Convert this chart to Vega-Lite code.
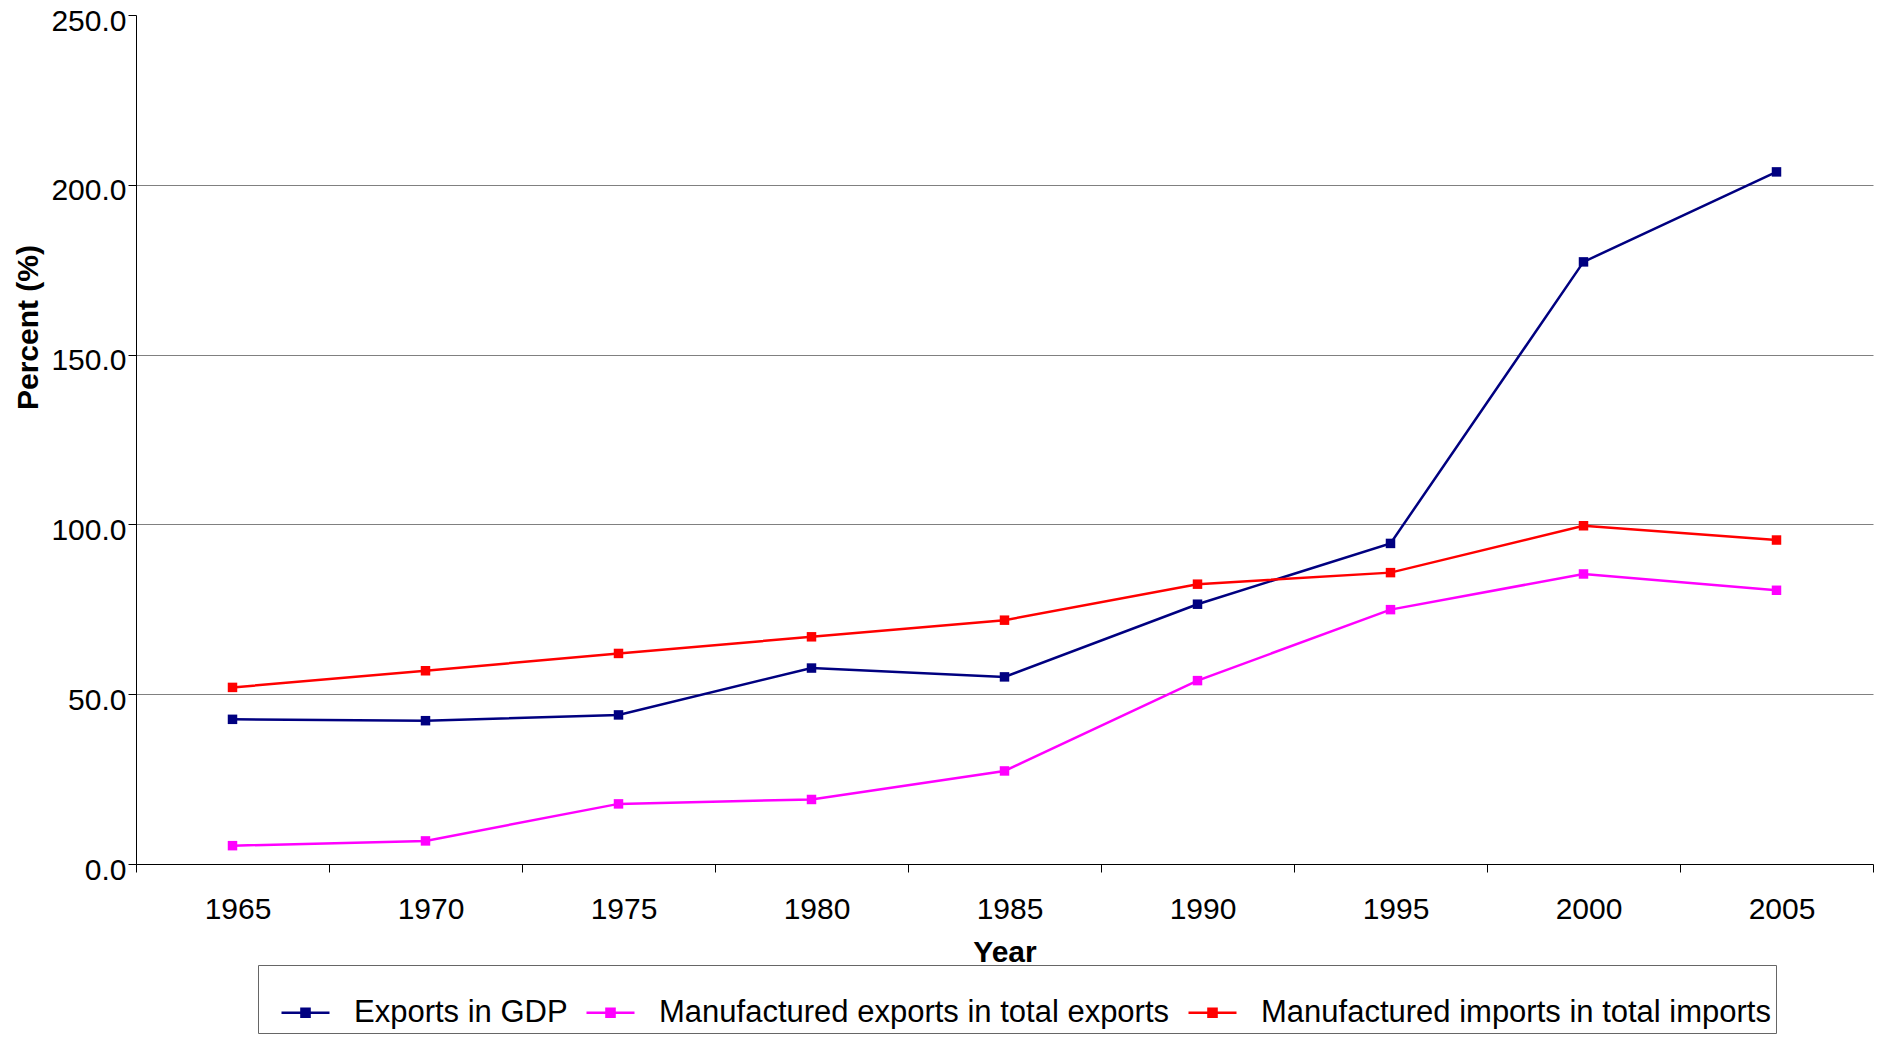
{
  "$schema": "https://vega.github.io/schema/vega-lite/v6.json",
  "width": 1737,
  "height": 849,
  "padding": {"left": 13, "top": 6, "right": 0, "bottom": 0},
  "autosize": {"type": "pad"},
  "config": {"view": {"stroke": null}, "font": "Liberation Sans"},
  "data": {
    "values": [
      {"year": 1965, "series": "Exports in GDP", "value": 42.6},
      {"year": 1970, "series": "Exports in GDP", "value": 42.2},
      {"year": 1975, "series": "Exports in GDP", "value": 43.9},
      {"year": 1980, "series": "Exports in GDP", "value": 57.7},
      {"year": 1985, "series": "Exports in GDP", "value": 55.1},
      {"year": 1990, "series": "Exports in GDP", "value": 76.5},
      {"year": 1995, "series": "Exports in GDP", "value": 94.4},
      {"year": 2000, "series": "Exports in GDP", "value": 177.3},
      {"year": 2005, "series": "Exports in GDP", "value": 203.8},
      {"year": 1965, "series": "Manufactured exports in total exports", "value": 5.4},
      {"year": 1970, "series": "Manufactured exports in total exports", "value": 6.8},
      {"year": 1975, "series": "Manufactured exports in total exports", "value": 17.7},
      {"year": 1980, "series": "Manufactured exports in total exports", "value": 19.0},
      {"year": 1985, "series": "Manufactured exports in total exports", "value": 27.4},
      {"year": 1990, "series": "Manufactured exports in total exports", "value": 54.0},
      {"year": 1995, "series": "Manufactured exports in total exports", "value": 74.9},
      {"year": 2000, "series": "Manufactured exports in total exports", "value": 85.4},
      {"year": 2005, "series": "Manufactured exports in total exports", "value": 80.6},
      {"year": 1965, "series": "Manufactured imports in total imports", "value": 52.0},
      {"year": 1970, "series": "Manufactured imports in total imports", "value": 56.9},
      {"year": 1975, "series": "Manufactured imports in total imports", "value": 62.0},
      {"year": 1980, "series": "Manufactured imports in total imports", "value": 66.9},
      {"year": 1985, "series": "Manufactured imports in total imports", "value": 71.8},
      {"year": 1990, "series": "Manufactured imports in total imports", "value": 82.4},
      {"year": 1995, "series": "Manufactured imports in total imports", "value": 85.8},
      {"year": 2000, "series": "Manufactured imports in total imports", "value": 99.6},
      {"year": 2005, "series": "Manufactured imports in total imports", "value": 95.4}
    ]
  },
  "encoding": {
    "x": {
      "field": "year",
      "type": "ordinal",
      "scale": {"type": "band", "paddingInner": 0, "paddingOuter": 0},
      "axis": {
        "title": "Year",
        "titleFontSize": 30,
        "titleFontWeight": "bold",
        "titleColor": "black",
        "titlePadding": 13,
        "labelFontSize": 30,
        "labelColor": "black",
        "labelAngle": 0,
        "labelPadding": 22,
        "labelOffset": 5,
        "tickSize": 8,
        "tickBand": "extent",
        "tickColor": "black",
        "domainColor": "black",
        "grid": false
      }
    },
    "y": {
      "field": "value",
      "type": "quantitative",
      "scale": {"domain": [0, 250], "nice": false},
      "axis": {
        "title": "Percent (%)",
        "titleFontSize": 30,
        "titleFontWeight": "bold",
        "titleColor": "black",
        "titleX": -108,
        "titleY": 312,
        "titleAngle": -90,
        "titleAlign": "center",
        "titleBaseline": "middle",
        "values": [0, 50, 100, 150, 200, 250],
        "format": ".1f",
        "labelFontSize": 30,
        "labelColor": "black",
        "labelPadding": 2,
        "labelOffset": 6,
        "labelBaseline": "middle",
        "tickSize": 8,
        "tickColor": "black",
        "domainColor": "black",
        "gridColor": "#808080",
        "gridOpacity": {"condition": {"test": "datum.value === 250 || datum.value === 0", "value": 0}, "value": 1}
      }
    },
    "color": {
      "field": "series",
      "type": "nominal",
      "scale": {
        "domain": ["Exports in GDP", "Manufactured exports in total exports", "Manufactured imports in total imports"],
        "range": ["#000080", "#FF00FF", "#FF0000"]
      },
      "legend": {
        "orient": "none",
        "legendX": 122,
        "legendY": 950,
        "direction": "horizontal",
        "title": " ",
        "titleFontSize": 20,
        "titlePadding": 6,
        "labelFontSize": 31,
        "labelColor": "black",
        "labelLimit": 1000,
        "strokeColor": "#666666",
        "fillColor": "white",
        "padding": 5,
        "symbolType": "M-1.6,0L1.6,0M-0.27,-0.27L0.27,-0.27L0.27,0.27L-0.27,0.27Z",
        "symbolSize": 900,
        "symbolStrokeWidth": 2.5,
        "symbolOffset": 26,
        "labelOffset": 32,
        "columnPadding": 0,
        "encode": {
          "symbols": {
            "update": {
              "fill": {"scale": "color", "field": "value"},
              "stroke": {"scale": "color", "field": "value"},
              "size": {"value": 900},
              "strokeWidth": {"value": 2.5},
              "opacity": {"value": 1}
            }
          }
        }
      }
    }
  },
  "layer": [
    {"mark": {"type": "line", "strokeWidth": 2.5}},
    {"mark": {"type": "point", "shape": "square", "filled": true, "opacity": 1, "size": 90}}
  ]
}
